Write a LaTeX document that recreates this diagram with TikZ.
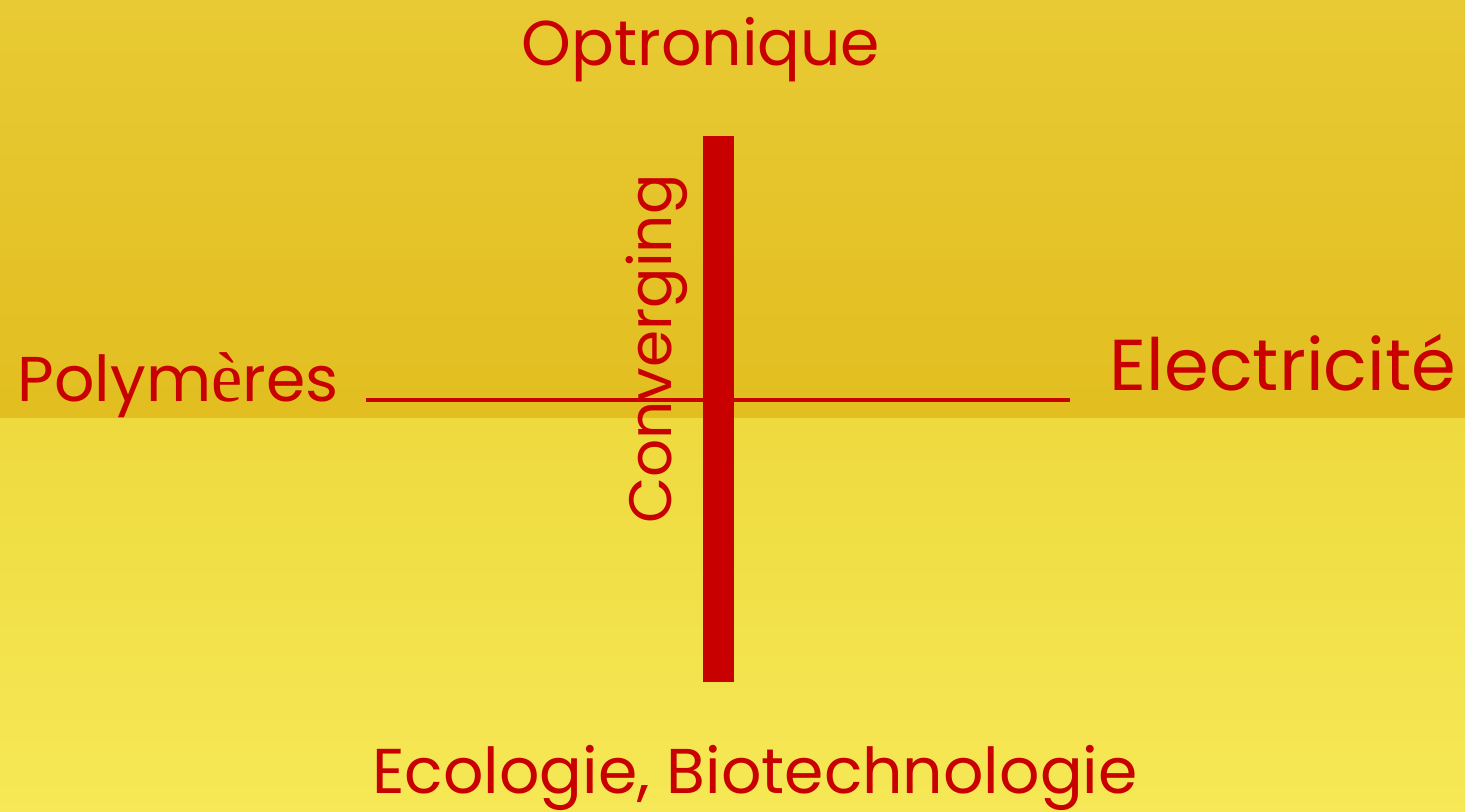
\documentclass[tikz,border=0pt]{standalone}
\usepackage{fontspec}
\setmainfont{Poppins}
\newfontfamily\accentfont{Liberation Serif}
\definecolor{inkred}{RGB}{200,0,0}
\definecolor{goldtop}{RGB}{232,202,52}
\definecolor{goldmid}{RGB}{226,190,32}
\definecolor{paletop}{RGB}{238,218,62}
\definecolor{palebot}{RGB}{246,232,86}
\tikzset{
	label/.style={text=inkred, font=\fontsize{18}{22}\selectfont, inner sep=0pt}
}
\begin{document}
\begin{tikzpicture}[x=0.01cm, y=-0.01cm, line join=round]
		% FOND
		\useasboundingbox (0,0) rectangle (1465,811);
		\shade[top color=goldtop, bottom color=goldmid] (0,0) rectangle (1465,418);
		\shade[top color=paletop, bottom color=palebot] (0,418) rectangle (1465,811);
		
		% AXES
		\coordinate (W) at (366,400); \coordinate (E) at (1070,400);
		\draw[inkred, line width=1.4pt] (W) -- (E);
		\fill[inkred] (703,136) rectangle (734,682);
		
		% TEXTES
		\node[label, anchor=base] (opt) at (701,65) {Optronique};
		\node[label, anchor=base] (eco) at (755,793) {Ecologie, Biotechnologie};
		\node[label, anchor=base] (poly) at (178,401) {Polym{\accentfont\fontsize{20}{24}\selectfont è}res};
		\node[label, anchor=base, font=\fontsize{20.5}{24}\selectfont] (elec) at (1283,390) {Electricité};
		\node[label, anchor=base, rotate=90, font=\fontsize{17}{20}\selectfont] (conv) at (672,349) {Converging};
	\end{tikzpicture}
\end{document}
